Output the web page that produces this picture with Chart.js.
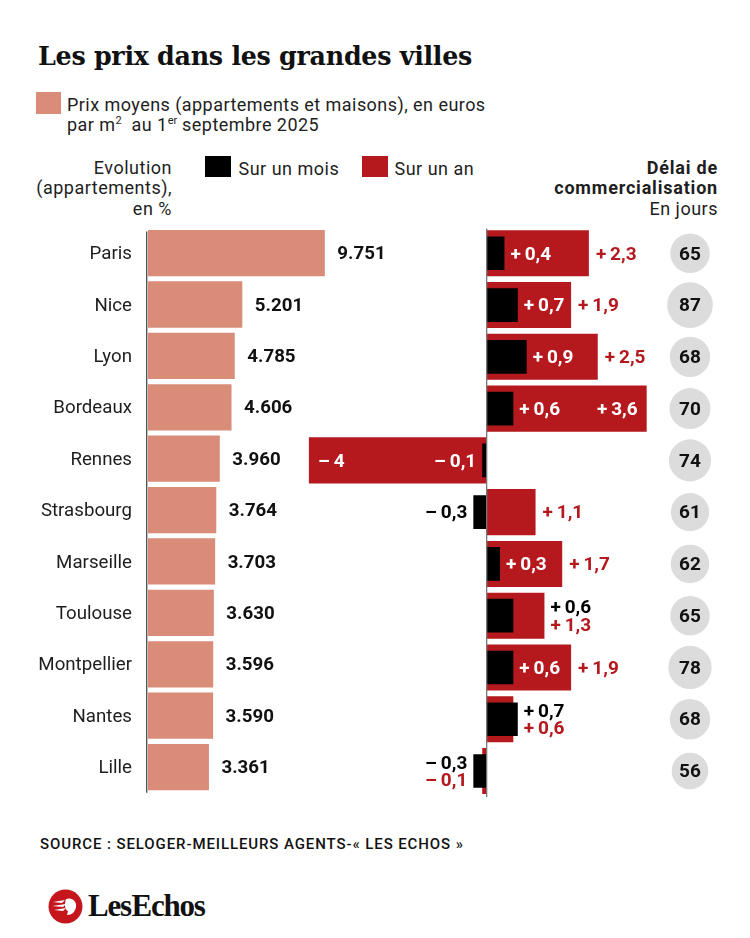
<!DOCTYPE html>
<html><head><meta charset="utf-8">
<script src="https://cdn.jsdelivr.net/npm/chart.js@4.4.1/dist/chart.umd.min.js"></script>
<style>
body{margin:0;width:750px;height:938px;background:#fff;position:relative;overflow:hidden;font-family:Roboto,sans-serif;color:#1e1e1e}
.abs{position:absolute;white-space:nowrap}
#title{left:38px;top:44px;font-family:"DejaVu Serif",serif;font-weight:bold;font-size:25.5px;line-height:25px;transform-origin:0 0;color:#111;letter-spacing:-0.3px}
.txt{font-size:18px;line-height:19.5px;letter-spacing:0.45px}
.sup{font-size:11px;position:relative;top:-7px;line-height:0;letter-spacing:0}
.hdr{font-size:18px;line-height:20.5px;letter-spacing:0.5px}
.hdr b{letter-spacing:0.8px}
.sq{position:absolute}
canvas{position:absolute}
#src{left:40px;top:836px;font-size:15px;line-height:17px;font-weight:500;color:#111;letter-spacing:0.9px}
#logo{left:88px;top:890px;font-family:"Liberation Serif",serif;font-weight:bold;font-size:31px;line-height:31px;letter-spacing:-1.2px;word-spacing:-6px;color:#111}
</style></head>
<body>
<div id="title" class="abs">Les prix dans les grandes villes</div>

<div class="sq" style="left:36px;top:92px;width:25px;height:22px;background:#d98c77"></div>
<div class="abs txt" style="left:67px;top:95px">Prix moyens (appartements et maisons), en euros<br>par m<span class="sup">2</span>&nbsp; au 1<span class="sup">er</span> septembre 2025</div>

<div class="abs hdr" style="right:578px;top:157.5px;text-align:right">Evolution<br>(appartements),<br>en %</div>
<div class="sq" style="left:205px;top:156px;width:26px;height:21px;background:#000"></div>
<div class="abs hdr" style="left:238.5px;top:158.5px">Sur un mois</div>
<div class="sq" style="left:362px;top:156px;width:26px;height:21px;background:#b5191d"></div>
<div class="abs hdr" style="left:394.5px;top:158.5px">Sur un an</div>
<div class="abs hdr" style="right:32px;top:157.5px;text-align:right"><b>Délai de</b><br><b>commercialisation</b><br>En jours</div>

<canvas id="c1" width="430" height="620" style="left:0;top:200px;width:430px;height:620px"></canvas>
<canvas id="c2" width="380" height="620" style="left:290px;top:200px;width:380px;height:620px"></canvas>
<canvas id="c3" width="100" height="620" style="left:640px;top:200px;width:100px;height:620px"></canvas>

<div id="src" class="abs">SOURCE : SELOGER-MEILLEURS AGENTS-« LES ECHOS »</div>
<svg class="abs" style="left:48px;top:889px" width="35" height="35" viewBox="0 0 35 35">
  <circle cx="17.5" cy="17.5" r="17" fill="#c4161c"/>
  <path d="M5 13 L17 11 L14 14 Z M4 17 L18 15 L15 18 Z M6 21 L18 19 L15 22 Z" fill="#fff"/>
  <path d="M18 10 C24 8 29 12 28 18 C27 23 24 26 19 26 L20 22 C17 21 16 16 18 10 Z" fill="#fff"/>
</svg>
<div id="logo" class="abs">Les Echos</div>

<script>
// ---- data ----
const cities = ['Paris','Nice','Lyon','Bordeaux','Rennes','Strasbourg','Marseille','Toulouse','Montpellier','Nantes','Lille'];
const prices = [9751,5201,4785,4606,3960,3764,3703,3630,3596,3590,3361];
const evolMonth = [0.4,0.7,0.9,0.6,-0.1,-0.3,0.3,0.6,0.6,0.7,-0.3];
const evolYear = [2.3,1.9,2.5,3.6,-4,1.1,1.7,1.3,1.9,0.6,-0.1];
const delays = [65,87,68,70,74,61,62,65,78,68,56];

const PINK = '#d98c77', RED = '#b5191d', BLACK = '#000', GREY = '#dcdcdc';
const VALFONT = 'bold 19px Roboto';
const PAD = { top: 27.4, bottom: 23.1 };

const fmtPrice = v => String(v).replace(/\B(?=(\d{3})+(?!\d))/g, '.');
const fmtEvo = v => {
  const a = Math.abs(v);
  return (v > 0 ? '+' : '\u2013') + '\u2009' + (Number.isInteger(a) ? String(a) : a.toFixed(1).replace('.', ','));
};

function start() {
  const t = document.getElementById('title');
  const w = t.getBoundingClientRect().width;
  t.style.transform = 'scaleX(' + (434 / w) + ')';

  Chart.defaults.font.family = 'Roboto';

  const priceLabels = {
    id: 'priceLabels',
    afterDatasetsDraw(chart) {
      const ctx = chart.ctx, meta = chart.getDatasetMeta(0), a = chart.chartArea;
      ctx.save();
      ctx.font = 'bold 18.7px Roboto'; ctx.fillStyle = '#111'; ctx.textBaseline = 'middle'; ctx.textAlign = 'left';
      meta.data.forEach((bar, i) => ctx.fillText(fmtPrice(prices[i]), bar.x + 12.5, bar.y + 1.5));
      ctx.strokeStyle = '#555'; ctx.lineWidth = 1.4;
      ctx.beginPath(); ctx.moveTo(a.left - 1.3, a.top + 4); ctx.lineTo(a.left - 1.3, a.bottom); ctx.stroke();
      ctx.restore();
    }
  };

  new Chart(document.getElementById('c1'), {
    type: 'bar',
    data: { labels: cities, datasets: [{ data: prices, backgroundColor: PINK, barPercentage: 0.9, categoryPercentage: 1, borderWidth: 0 }] },
    options: {
      indexAxis: 'y', responsive: false, animation: false, events: [],
      layout: { padding: { top: PAD.top, bottom: PAD.bottom, left: 0, right: 10 } },
      plugins: { legend: { display: false }, tooltip: { enabled: false } },
      scales: {
        x: { display: false, min: 0, max: 15000 },
        y: {
          afterFit: s => { s.width = 148; },
          grid: { display: false, drawTicks: false }, border: { display: false },
          ticks: { padding: 16, labelOffset: 1.5, color: '#1e1e1e', font: { size: 18.7, family: 'Roboto' } }
        }
      }
    },
    plugins: [priceLabels]
  });

  const evoLabels = {
    id: 'evoLabels',
    afterDatasetsDraw(chart) {
      const ctx = chart.ctx, xs = chart.scales.x, a = chart.chartArea;
      const mMeta = chart.getDatasetMeta(0);
      const x0 = xs.getPixelForValue(0);
      ctx.save();
      ctx.strokeStyle = '#777'; ctx.lineWidth = 1.3;
      ctx.beginPath(); ctx.moveTo(x0, a.top + 1); ctx.lineTo(x0, a.bottom); ctx.stroke();
      ctx.font = VALFONT; ctx.textBaseline = 'middle';
      const dir = v => v >= 0 ? 1 : -1;
      const put = (t, x, yy, col, d) => { ctx.fillStyle = col; ctx.textAlign = d > 0 ? 'left' : 'right'; ctx.fillText(t, x, yy); };
      cities.forEach((c, i) => {
        const m = evolMonth[i], y = evolYear[i], yc = mMeta.data[i].y + 1.5;
        const lm = fmtEvo(m), ly = fmtEvo(y);
        const wm = ctx.measureText(lm).width, wy = ctx.measureText(ly).width;
        const pm = xs.getPixelForValue(m), py = xs.getPixelForValue(y);
        if (dir(m) !== dir(y)) {
          put(lm, pm + dir(m) * 6, yc, BLACK, dir(m));
          put(ly, py + dir(y) * 7, yc, RED, dir(y));
        } else {
          const d = dir(y);
          const inner = (py - pm) * d;
          if (inner >= wm + 12) {
            put(lm, pm + d * 6, yc, '#fff', d);
            if (inner >= wm + wy + 30) put(ly, py - d * 9, yc, '#fff', -d);
            else put(ly, py + d * 7, yc, RED, d);
          } else {
            const end = d > 0 ? Math.max(pm, py) : Math.min(pm, py);
            put(lm, end + d * 6, yc - 8.5, BLACK, d);
            put(ly, end + d * 6, yc + 9, RED, d);
          }
        }
      });
      ctx.restore();
    }
  };

  new Chart(document.getElementById('c2'), {
    type: 'bar',
    data: {
      labels: cities,
      datasets: [
        { label: 'Sur un mois', data: evolMonth, backgroundColor: BLACK, barPercentage: 0.65, categoryPercentage: 1, grouped: false, borderWidth: 0 },
        { label: 'Sur un an', data: evolYear, backgroundColor: RED, barPercentage: 0.89, categoryPercentage: 1, grouped: false, borderWidth: 0 }
      ]
    },
    options: {
      indexAxis: 'y', responsive: false, animation: false, events: [],
      layout: { padding: { top: PAD.top, bottom: PAD.bottom, left: 10, right: 10 } },
      plugins: { legend: { display: false }, tooltip: { enabled: false } },
      scales: {
        x: { display: false, min: -4.2, max: 3.9 },
        y: { display: false }
      }
    },
    plugins: [evoLabels]
  });

  const delayLabels = {
    id: 'delayLabels',
    afterDatasetsDraw(chart) {
      const ctx = chart.ctx, meta = chart.getDatasetMeta(0);
      ctx.save();
      ctx.font = VALFONT; ctx.fillStyle = '#111'; ctx.textBaseline = 'middle'; ctx.textAlign = 'center';
      meta.data.forEach((pt, i) => ctx.fillText(String(delays[i]), pt.x, pt.y + 1.5));
      ctx.restore();
    }
  };

  new Chart(document.getElementById('c3'), {
    type: 'bubble',
    data: { datasets: [{ data: delays.map((v, i) => ({ x: 0, y: cities[i], r: 2.45 * Math.sqrt(v) })), backgroundColor: GREY, borderWidth: 0, clip: false }] },
    options: {
      responsive: false, animation: false, events: [],
      layout: { padding: { top: PAD.top, bottom: PAD.bottom, left: 0, right: 0 } },
      plugins: { legend: { display: false }, tooltip: { enabled: false } },
      scales: {
        x: { type: 'linear', min: -1, max: 1, display: false },
        y: { type: 'category', labels: cities, offset: true, display: false }
      }
    },
    plugins: [delayLabels]
  });
}

Promise.all([
  document.fonts.load('bold 19px Roboto'),
  document.fonts.load('18px Roboto'),
  document.fonts.load('500 15px Roboto'),
  document.fonts.load('bold 25px "DejaVu Serif"')
]).catch(() => {}).then(start);
</script>
</body></html>
